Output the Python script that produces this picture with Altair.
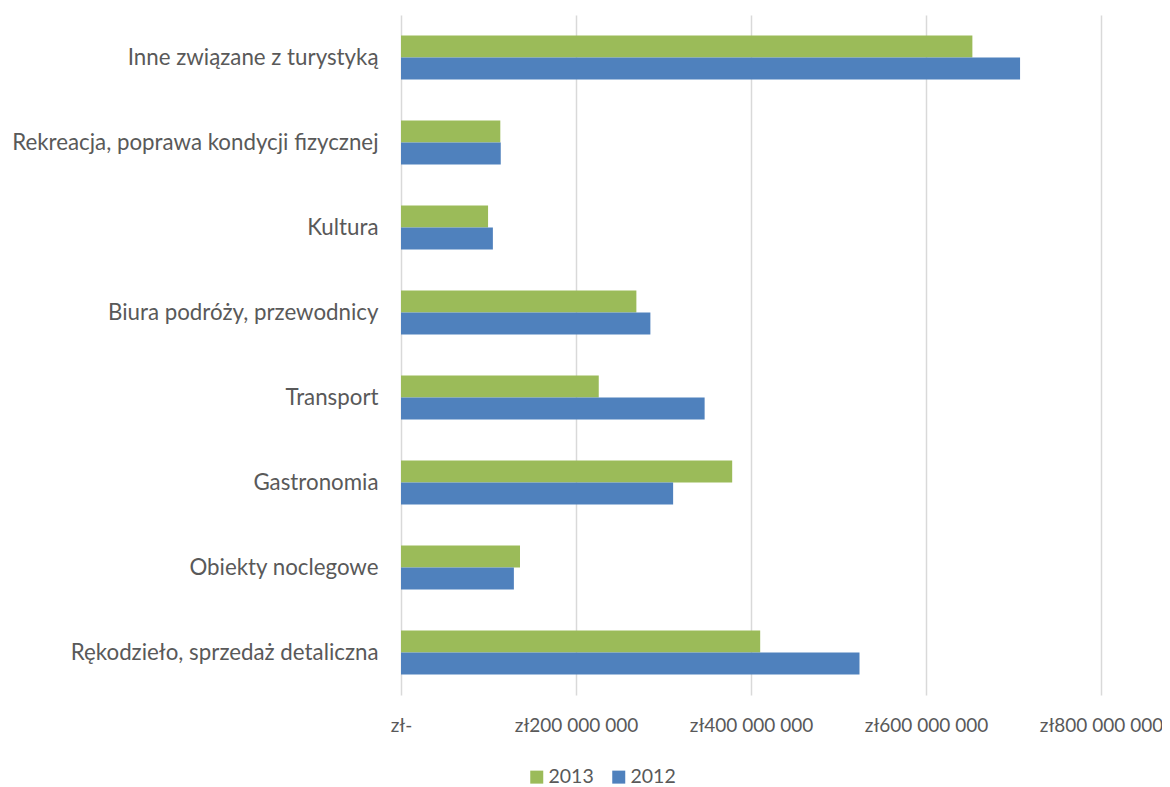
import altair as alt
import pandas as pd

categories = [
    "Inne związane z turystyką",
    "Rekreacja, poprawa kondycji fizycznej",
    "Kultura",
    "Biura podróży, przewodnicy",
    "Transport",
    "Gastronomia",
    "Obiekty noclegowe",
    "Rękodzieło, sprzedaż detaliczna",
]
years = ["2013", "2012"]
values_2013 = [653.0, 113.5, 99.5, 269.0, 226.0, 378.5, 136.0, 410.5]  # mln zł
values_2012 = [707.5, 114.0, 105.0, 285.0, 347.0, 311.0, 129.0, 524.0]  # mln zł
colors = ["#9BBB59", "#4F81BD"]
tick_values = [0, 200e6, 400e6, 600e6, 800e6]

rows = []
for c, a, b in zip(categories, values_2013, values_2012):
    rows.append({"Kategoria": c, "Rok": "2013", "Wartosc": a * 1e6})
    rows.append({"Kategoria": c, "Rok": "2012", "Wartosc": b * 1e6})
df = pd.DataFrame(rows)

text_color = "#595959"
font = "Lato"

chart = (
    alt.Chart(df)
    .mark_bar()
    .encode(
        x=alt.X(
            "Wartosc:Q",
            scale=alt.Scale(domain=[0, 800e6], nice=False, zero=True),
            axis=alt.Axis(
                values=tick_values,
                labelExpr="datum.value == 0 ? 'zł-' : 'zł' + format(datum.value / 1000000, 'd') + ' 000 000'",
                title=None,
                domain=False,
                ticks=False,
                grid=True,
                gridColor="#D9D9D9",
                gridWidth=1.5,
                labelFontSize=19,
                labelFont=font,
                labelColor=text_color,
                labelPadding=21,
                labelOverlap=False,
                labelFlush=False,
                labelBound=False,
            ),
        ),
        y=alt.Y(
            "Kategoria:N",
            sort=categories,
            scale=alt.Scale(paddingInner=0.48, paddingOuter=0.24),
            axis=alt.Axis(
                title=None,
                domain=False,
                ticks=False,
                labelFontSize=22.3,
                labelFont=font,
                labelColor=text_color,
                labelPadding=23,
                labelLimit=0,
            ),
        ),
        yOffset=alt.YOffset("Rok:N", sort=years),
        color=alt.Color(
            "Rok:N",
            sort=years,
            scale=alt.Scale(domain=years, range=colors),
            legend=alt.Legend(
                orient="none",
                legendX=126,
                legendY=752,
                direction="horizontal",
                title=None,
                symbolType="square",
                symbolSize=169,
                symbolStrokeWidth=0,
                labelFontSize=19.5,
                labelFont=font,
                labelColor=text_color,
                labelOffset=2,
                columnPadding=15,
            ),
        ),
    )
    .properties(
        width=700,
        height=680,
        autosize=alt.AutoSizeParams(type="none"),
        padding={"left": 393, "top": 7, "right": 61, "bottom": 92},
    )
    .configure_view(stroke=None)
)

chart.save("out.html", embed_options={"renderer": "svg", "actions": False})
